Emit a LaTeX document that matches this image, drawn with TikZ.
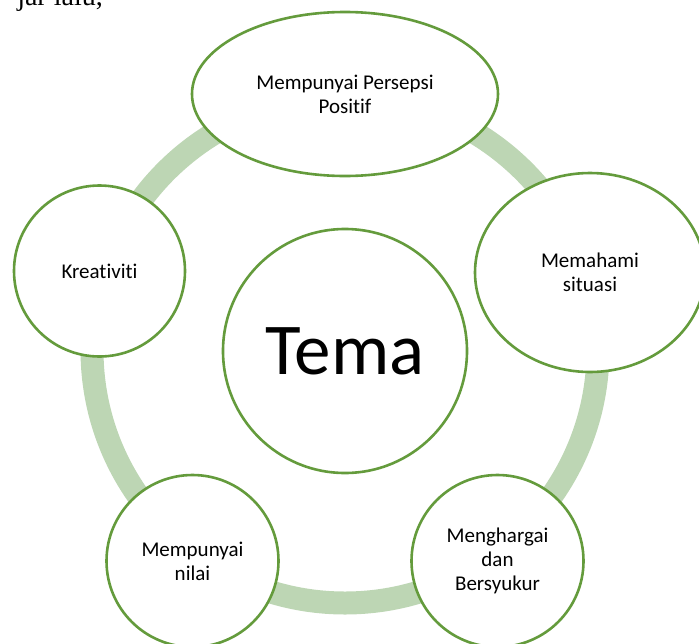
\documentclass[tikz,border=0pt]{standalone}
\usepackage{fontspec}
\setmainfont{Carlito}[Ligatures=NoCommon]
\newfontfamily\bodyserif{Liberation Serif}
\usepackage{xcolor}
\usepackage{tikz}
\usetikzlibrary{shapes.geometric}

\definecolor{ringgreen}{RGB}{189,214,180}
\definecolor{edgegreen}{RGB}{100,155,60}

\begin{document}
\begin{tikzpicture}[x=1pt, y=-1pt,
        topic/.style={draw=edgegreen, line width=2.6pt, fill=white, inner sep=0pt, align=center,
            font=\fontsize{21}{24}\selectfont},
        ring/.style={draw=ringgreen, line width=23pt}]
        \useasboundingbox (0, 0) rectangle (699, 643);
        \clip (0, 0) rectangle (699, 643);

        \node [anchor=base east, inner sep=0pt, font=\bodyserif\fontsize{28}{30}\selectfont] (intro) at (103, 5) {jar lalu,};

        \draw [ring] (345, 350) circle (253); % background ring

        \node [topic, circle, minimum size=244pt, font=\fontsize{73}{80}\selectfont] (tema) at (345, 351) {Tema};

        \node [topic, ellipse, minimum width=306pt, minimum height=164pt] (persepsi) at (345, 94) {Mempunyai Persepsi\\Positif};
        \node [topic, ellipse, minimum width=230pt, minimum height=199pt] (situasi) at (590, 272.5) {Memahami\\situasi};
        \node [topic, circle, minimum size=172pt] (bersyukur) at (497.5, 561) {Menghargai\\dan\\Bersyukur};
        \node [topic, circle, minimum size=172pt] (nilai) at (192.5, 561) {Mempunyai\\nilai};
        \node [topic, circle, minimum size=171pt] (kreativiti) at (99.5, 271) {Kreativiti};
    \end{tikzpicture}
\end{document}
